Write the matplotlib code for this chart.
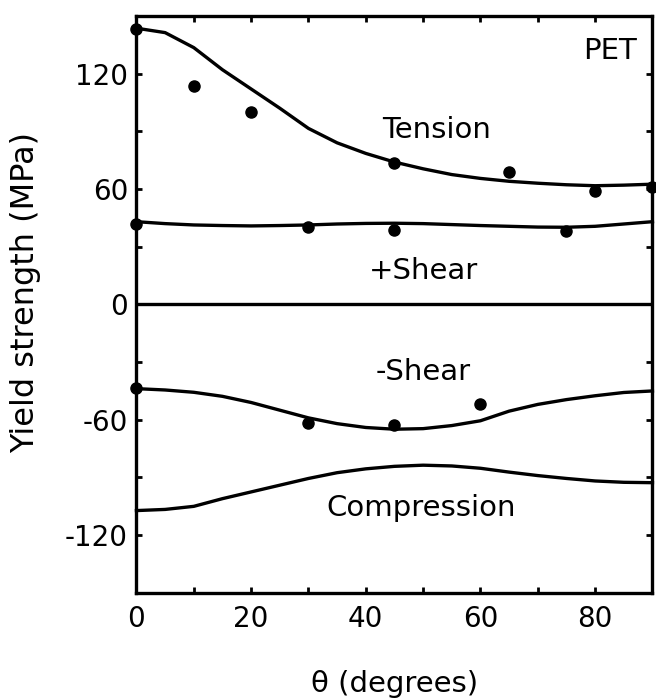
import matplotlib
matplotlib.use('Agg')
import matplotlib.pyplot as plt

plt.rcParams['font.family'] = ['DejaVu Sans']
plt.rcParams['axes.unicode_minus'] = False

# curves, every 5 degrees
theta = [0, 5, 10, 15, 20, 25, 30, 35, 40, 45, 50, 55, 60, 65, 70, 75, 80, 85, 90]
tension = [143.6, 141.3, 133.5, 122, 112, 102, 91.5, 84, 78.5, 74, 70.5, 67.5,
           65.5, 64, 63, 62.2, 61.7, 62, 62.5]
plus_shear = [43, 42, 41.3, 41, 40.8, 41, 41.3, 41.8, 42.1, 42.2, 42, 41.5,
              41, 40.6, 40.2, 40.1, 40.6, 41.8, 43]
minus_shear = [-43.8, -44.5, -45.7, -47.8, -51, -55, -59, -62, -64, -64.9, -64.6,
               -63, -60.5, -55.5, -52, -49.5, -47.5, -45.8, -45]
compression = [-107.2, -106.6, -105, -101, -97.5, -94, -90.5, -87.5, -85.5, -84.2,
               -83.6, -84, -85.2, -87.2, -89, -90.5, -91.8, -92.5, -92.7]

# measured points
tension_th = [0, 10, 20, 45, 65, 80, 90]
tension_pts = [143, 113.5, 100, 73.5, 69, 58.7, 61]
plus_th = [0, 30, 45, 75]
plus_pts = [42, 40, 38.8, 38]
minus_th = [0, 30, 45, 60]
minus_pts = [-43.6, -61.8, -62.7, -52]

fig = plt.figure(figsize=(6.56, 7), dpi=100)
ax = fig.add_axes([0.208, 0.153, 0.7866, 0.8243])

lw = 2.4
for curve in (tension, plus_shear, minus_shear, compression):
    ax.plot(theta, curve, color='black', lw=lw, clip_on=False,
            solid_joinstyle='round')
ax.axhline(0, color='black', lw=lw)

for th, pts in ((tension_th, tension_pts), (plus_th, plus_pts), (minus_th, minus_pts)):
    ax.plot(th, pts, 'o', color='black', ms=8, clip_on=False, zorder=5)

# labels inside the plot
ax.text(87.3, 132, 'PET', ha='right', va='center', fontsize=21)
ax.text(52.3, 90.5, 'Tension', ha='center', va='center', fontsize=21)
ax.text(50, 17.5, '+Shear', ha='center', va='center', fontsize=21)
ax.text(50, -35, '-Shear', ha='center', va='center', fontsize=21)
ax.text(49.7, -106, 'Compression', ha='center', va='center', fontsize=21)

ax.set_xlim(0, 90)
ax.set_ylim(-150, 150)
ax.set_xticks([0, 20, 40, 60, 80])
ax.set_xticks(range(10, 90, 20), minor=True)
ax.set_yticks([-120, -60, 0, 60, 120])
ax.set_yticks([-90, -30, 30, 90], minor=True)
ax.tick_params(which='both', direction='in', top=True, right=True,
               length=4, width=2)
ax.tick_params(axis='x', labelsize=20, pad=9)
ax.tick_params(axis='y', labelsize=20, pad=6)

for s in ax.spines.values():
    s.set_linewidth(2.4)

ax.set_xlabel('θ (degrees)', fontsize=21)
ax.set_ylabel('Yield strength (MPa)', fontsize=23)
ax.xaxis.set_label_coords(0.5, -0.133)
ax.yaxis.set_label_coords(-0.185, 0.52)

fig.savefig('out.png', dpi=100)
